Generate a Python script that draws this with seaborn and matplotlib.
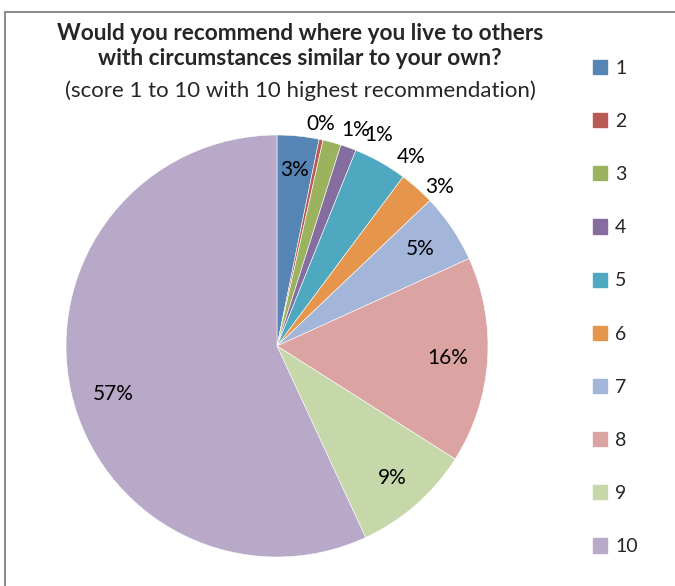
import matplotlib
matplotlib.use('Agg')
import matplotlib.pyplot as plt
import seaborn as sns
import numpy as np
from matplotlib.patches import Rectangle

# 数据：评分 1-10 的占比
scores = ['1', '2', '3', '4', '5', '6', '7', '8', '9', '10']
shares = [3.2, 0.3, 1.4, 1.2, 4.1, 2.7, 5.3, 15.8, 9.1, 56.9]
colors = ['#5585B5', '#B95A54', '#9BB35E', '#856E9F', '#4EA8C0',
          '#E6964C', '#A3B5D8', '#DCA3A3', '#C6D7A9', '#B8A9C9']

title_bold = 'Would you recommend where you live to others\nwith circumstances similar to your own?'
title_sub = '(score 1 to 10 with 10 highest recommendation)'

# 标签位置（半径比例、角度偏移）
label_dist = [0.84, 1.07, 1.09, 1.11, 1.10, 1.08, 0.82, 0.81, 0.83, 0.81]
label_shift = [0, -1, 5, 6, 6, 4, 0, 0, 0, -4]

sns.set_theme(style='white')
plt.rcParams['font.family'] = ['Lato', 'DejaVu Sans']

fig = plt.figure(figsize=(6.75, 5.86), dpi=100)
ax = fig.add_axes([66 / 675, 29 / 586, 422 / 675, 422 / 586])

palette = sns.color_palette(colors)
wedges, _ = ax.pie(shares, colors=palette, startangle=90, counterclock=False,
                   wedgeprops=dict(edgecolor='white', linewidth=0.4))
ax.set_xlim(-1, 1)
ax.set_ylim(-1, 1)
ax.set_aspect('equal')
ax.axis('off')

for w, v, d, s in zip(wedges, shares, label_dist, label_shift):
    ang = np.deg2rad((w.theta1 + w.theta2) / 2 - s)
    ax.text(d * np.cos(ang), d * np.sin(ang), f'{v:.0f}%', ha='center', va='center',
            fontsize=15, color='black')

# 标题
fig.text(300 / 675, 1 - 46 / 586, title_bold, ha='center', va='center', fontsize=16.3,
         fontweight='bold', linespacing=1.25)
fig.text(300 / 675, 1 - 91 / 586, title_sub, ha='center', va='center', fontsize=16)

# 图例
handles = [Rectangle((0, 0), 1, 1, color=c) for c in palette]
fig.legend(handles, scores, loc='upper left', bbox_to_anchor=(585 / 675, 1 - 52 / 586),
           frameon=False, fontsize=14, handlelength=0.75, handleheight=0.75,
           handletextpad=0.4, labelspacing=1.86, borderaxespad=0)

# 外框
fig.patches.append(Rectangle((5 / 675, -0.1), 1.2, 1.1 - 12 / 586, transform=fig.transFigure,
                             fill=False, edgecolor='#8C8C8C', linewidth=1.5))

fig.savefig('out.png', dpi=100)
